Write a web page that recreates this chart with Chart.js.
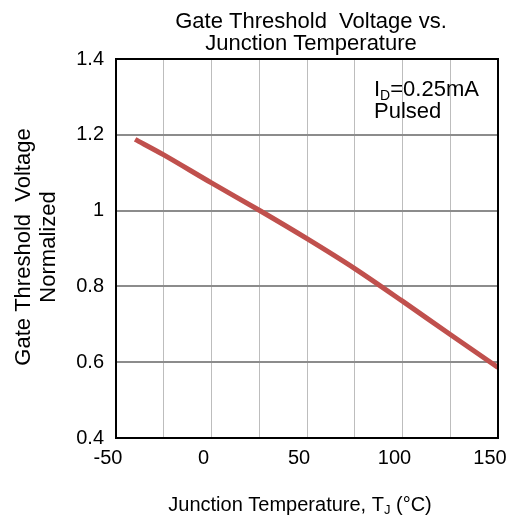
<!DOCTYPE html>
<html lang="en">
<head>
<meta charset="UTF-8">
<title>Gate Threshold Voltage vs. Junction Temperature</title>
<script src="https://cdn.jsdelivr.net/npm/chart.js"></script>
<style>
  html, body { margin: 0; padding: 0; background: #fff; }
  #wrap { width: 513px; height: 525px; }
</style>
</head>
<body>
<div id="wrap"><canvas id="vthChart"></canvas></div>
<script>
// values
const temps = [-40, -25, 0, 25, 50, 75, 100, 125, 150];
const vthNorm = [1.188, 1.147, 1.073, 1.001, 0.926, 0.847, 0.761, 0.673, 0.586];
const xLabelTicks = [-50, 0, 50, 100, 150];
const titleLines = ['Gate Threshold  Voltage vs.', 'Junction Temperature'];
const yTitleLines = ['Gate Threshold  Voltage', 'Normalized'];
const xTitle = ['Junction Temperature, T', 'J', ' (°C)'];
const note = ['I', 'D', '=0.25mA', 'Pulsed'];

const FONT = '"Liberation Sans", Arial, sans-serif';

// draws titles, the note and the frame round the plot
const decor = {
  id: 'decor',
  afterDraw(chart) {
    const c = chart.ctx;
    const a = chart.chartArea;
    c.save();
    c.fillStyle = '#000';

    // frame
    c.strokeStyle = '#000';
    c.lineWidth = 2;
    c.strokeRect(a.left, a.top, a.right - a.left, a.bottom - a.top);

    // top title
    c.font = '22px ' + FONT;
    c.textAlign = 'center';
    c.textBaseline = 'alphabetic';
    c.fillText(titleLines[0], 311, 28);
    c.fillText(titleLines[1], 311, 50);

    // x title with subscript J
    c.textAlign = 'left';
    c.font = '20px ' + FONT;
    const w0 = c.measureText(xTitle[0]).width;
    const w2 = c.measureText(xTitle[2]).width;
    c.font = '13px ' + FONT;
    const w1 = c.measureText(xTitle[1]).width;
    let x = 300 - (w0 + w1 + w2) / 2;
    const by = 511;
    c.font = '20px ' + FONT;
    c.fillText(xTitle[0], x, by);
    x += w0;
    c.font = '13px ' + FONT;
    c.fillText(xTitle[1], x, by + 3);
    x += w1;
    c.font = '20px ' + FONT;
    c.fillText(xTitle[2], x, by);

    // note with subscript D
    c.font = '22px ' + FONT;
    x = 374;
    c.fillText(note[0], x, 96);
    x += c.measureText(note[0]).width;
    c.font = '14px ' + FONT;
    c.fillText(note[1], x, 100);
    x += c.measureText(note[1]).width;
    c.font = '22px ' + FONT;
    c.fillText(note[2], x, 96);
    c.fillText(note[3], 374, 118);

    // y title, rotated
    c.translate(0, 247);
    c.rotate(-Math.PI / 2);
    c.textAlign = 'center';
    c.fillText(yTitleLines[0], 0, 30);
    c.fillText(yTitleLines[1], 0, 55);
    c.restore();
  }
};

new Chart(document.getElementById('vthChart'), {
  type: 'line',
  data: {
    datasets: [{
      data: temps.map((t, i) => ({ x: t, y: vthNorm[i] })),
      borderColor: '#c0504d',
      borderWidth: 5,
      pointRadius: 0,
      tension: 0.3,
      fill: false
    }]
  },
  options: {
    responsive: true,
    maintainAspectRatio: false,
    animation: false,
    layout: { padding: { top: 59, right: 15, bottom: 0, left: 0 } },
    plugins: { legend: { display: false }, tooltip: { enabled: false } },
    scales: {
      x: {
        type: 'linear',
        min: -50,
        max: 150,
        afterFit(s) { s.height = 87; s.paddingLeft = 0; s.paddingRight = 0; },
        border: { display: false },
        grid: { color: '#bdbdbd', lineWidth: 1, drawTicks: false },
        ticks: {
          stepSize: 25,
          autoSkip: false,
          maxRotation: 0,
          padding: 8,
          labelOffset: -8,
          color: '#000',
          font: { family: FONT, size: 20 },
          callback: v => xLabelTicks.includes(v) ? String(v) : ''
        }
      },
      y: {
        min: 0.4,
        max: 1.4,
        afterFit(s) { s.width = 116; },
        border: { display: false },
        grid: { color: '#8c8c8c', lineWidth: 2, drawTicks: false },
        ticks: {
          stepSize: 0.2,
          padding: 12,
          color: '#000',
          font: { family: FONT, size: 20 },
          callback: v => String(+v.toFixed(1))
        }
      }
    }
  },
  plugins: [decor]
});
</script>
</body>
</html>
